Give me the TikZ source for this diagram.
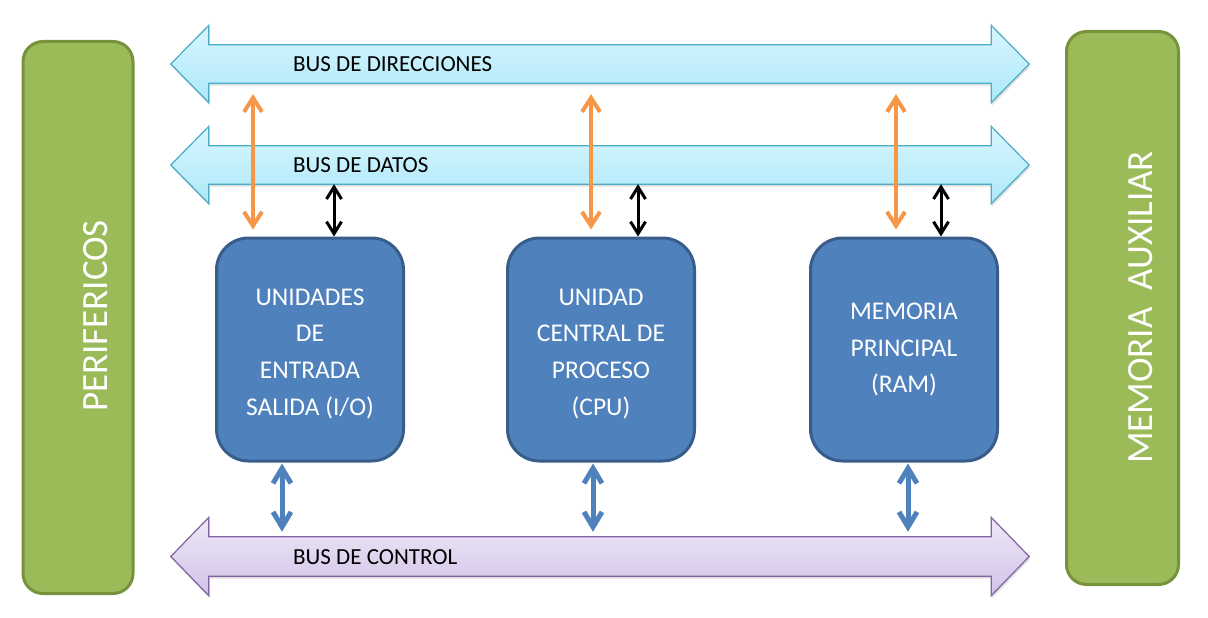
\documentclass[tikz,border=0pt]{standalone}
\usepackage{fontspec}
\setmainfont{Carlito}
\usetikzlibrary{positioning}
\usetikzlibrary{arrows.meta,shadows}

\definecolor{busedge}{HTML}{4BACC6}
\definecolor{bustop}{HTML}{D8F6FE}
\definecolor{busbot}{HTML}{ADE8F9}
\definecolor{ctledge}{HTML}{8064A2}
\definecolor{ctltop}{HTML}{EEE8F6}
\definecolor{ctlbot}{HTML}{D2C2E8}
\definecolor{unitfill}{HTML}{4F81BD}
\definecolor{unitedge}{HTML}{385D8A}
\definecolor{sidefill}{HTML}{9BBB59}
\definecolor{sideedge}{HTML}{76923C}
\definecolor{addrorange}{HTML}{F79646}

\newcommand\busoutline[1]{(#1.north west) -- (#1.north east) -- ([yshift=19.5pt]#1.north east) -- ([xshift=38pt]#1.east) -- ([yshift=-19.5pt]#1.south east) -- (#1.south east) -- (#1.south west) -- ([yshift=-19.5pt]#1.south west) -- ([xshift=-38pt]#1.west) -- ([yshift=19.5pt]#1.north west) -- cycle}
\newcommand\topgap{\rule{0pt}{25pt}}

\tikzset{
  shaft/.style={rectangle,inner sep=0pt,minimum width=782pt,minimum height=38pt},
  bluebus/.style={draw=busedge,line width=1.2pt,top color=bustop,bottom color=busbot,
    drop shadow={opacity=0.25,shadow xshift=1pt,shadow yshift=-2.5pt}},
  violetbus/.style={draw=ctledge,line width=1.2pt,top color=ctltop,bottom color=ctlbot,
    drop shadow={opacity=0.25,shadow xshift=1pt,shadow yshift=-2.5pt}},
  bustext/.style={anchor=west,inner sep=0pt,font=\fontsize{23}{28}\selectfont},
  unit/.style={rectangle,rounded corners=32pt,draw=unitedge,fill=unitfill,line width=3pt,
    minimum width=187pt,minimum height=223pt,text=white,align=center,
    font=\fontsize{25.5}{36.7}\selectfont},
  side/.style={rectangle,rounded corners=20pt,draw=sideedge,fill=sidefill,line width=3pt},
  sidetext/.style={rotate=90,anchor=base,inner sep=0pt,text=white,font=\fontsize{37}{44}\selectfont},
  addrline/.style={draw=addrorange,line width=4pt,
    {Straight Barb[length=14pt,width=18pt]}-{Straight Barb[length=14pt,width=18pt]},
    shorten <=11pt,shorten >=7pt},
  dataline/.style={draw=black,line width=3pt,
    {Straight Barb[length=12pt,width=15pt]}-{Straight Barb[length=12pt,width=15pt]}},
  ctrlline/.style={draw=unitfill,line width=5pt,
    {Straight Barb[length=15pt,width=18pt]}-{Straight Barb[length=15pt,width=18pt]},
    shorten <=1pt,shorten >=5pt}
}

\begin{document}
\begin{tikzpicture}[x=1pt,y=-1pt]
\useasboundingbox (0,0) rectangle (1208,618);

% side blocks
\node[side,minimum width=110pt,minimum height=552pt] (peri) at (78,317.5) {};
\node[side,minimum width=112pt,minimum height=553pt] (aux) at (1122.5,308) {};
\node[sidetext] (peritext) at (107,316) {PERIFERICOS};
\node[sidetext] (auxtext) at (1152,307.5) {MEMORIA\ \ AUXILIAR};

% buses
\node[shaft] (dir) at (600,64) {};
\node[shaft] (dat) at (600,165) {};
\node[shaft,minimum height=39pt] (ctl) at (600,556.5) {};
\path[bluebus] \busoutline{dir};
\path[bluebus] \busoutline{dat};
\path[violetbus] \busoutline{ctl};
\node[bustext] (dirtext) at (293,64) {BUS DE DIRECCIONES};
\node[bustext] (dattext) at (293,165) {BUS DE DATOS};
\node[bustext] (ctltext) at (293,557) {BUS DE CONTROL};

% units
\node[unit] (io) at (310,349.5) {\topgap UNIDADES\\DE\\ENTRADA\\SALIDA (I/O)};
\node[unit,right=101pt of io] (cpu) {\topgap UNIDAD\\CENTRAL DE\\PROCESO\\(CPU)};
\node[unit,right=113pt of cpu] (ram) {MEMORIA\\PRINCIPAL\\(RAM)};

% connectors
\foreach \u/\a/\d/\c in {io/38/119/67,cpu/85/132/87,ram/87/132/99} {
  \coordinate (a) at ([xshift=\a pt]\u.north west);
  \coordinate (d) at ([xshift=\d pt]\u.north west);
  \coordinate (c) at ([xshift=\c pt]\u.south west);
  \draw[addrline] (a |- dir.south) -- (a);
  \draw[dataline] (d |- dat.south) -- (d);
  \draw[ctrlline] (c) -- (c |- ctl.north);
}
\end{tikzpicture}
\end{document}
